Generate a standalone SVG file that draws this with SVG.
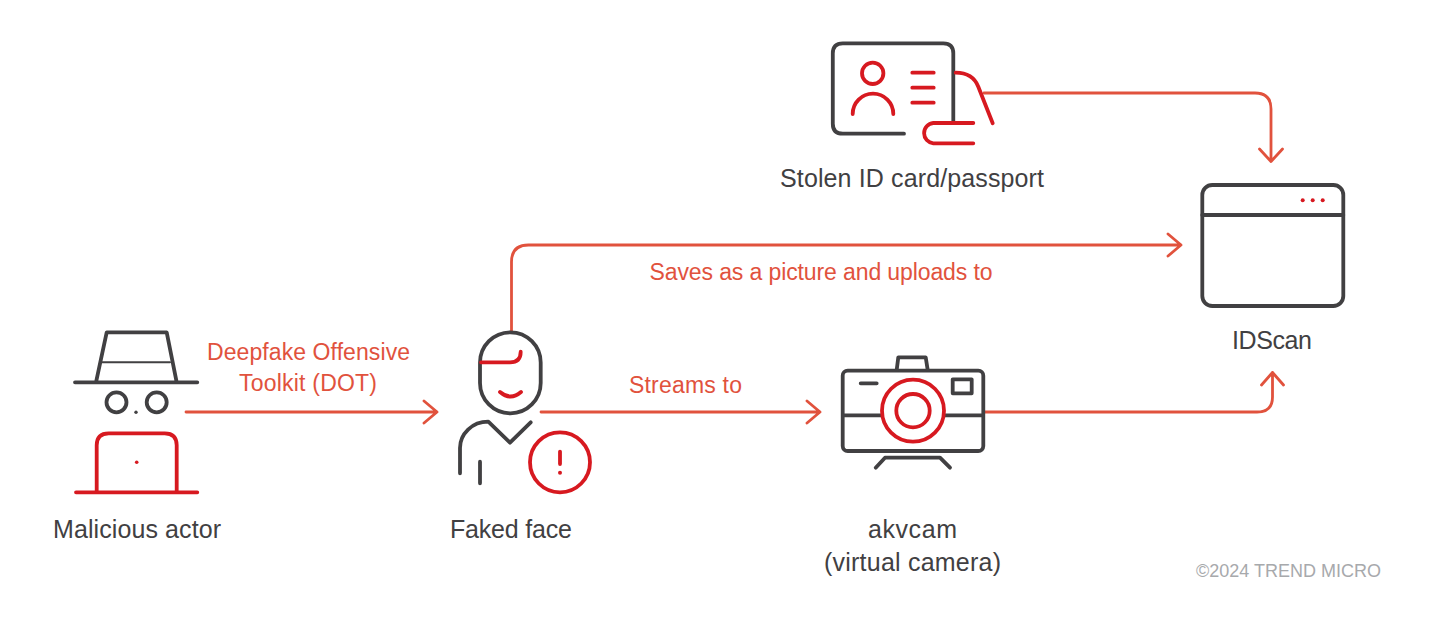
<svg xmlns="http://www.w3.org/2000/svg" width="1431" height="617" viewBox="0 0 1431 617">
<style>
.d{fill:none;stroke:#414042;stroke-width:3.800;stroke-linecap:round;stroke-linejoin:round}
.r{fill:none;stroke:#d71920;stroke-width:3.800;stroke-linecap:round;stroke-linejoin:round}
.c{fill:none;stroke:#e1523d;stroke-width:2.800;stroke-linecap:round;stroke-linejoin:round}
.fr{fill:#d71920}
.fd{fill:#414042}
text{font-family:"Liberation Sans",Arial,sans-serif;text-anchor:middle}
.lb{fill:#414042;font-size:25px}
.lc{fill:#e1523d;font-size:23px}
.cp{fill:#a7a9ac;font-size:18px}
</style>
<rect width="1431" height="617" fill="#fff"/>
<g id="connectors">
<path class="c" d="M186 412H437M424 401L437 412L424 423"/>
<path class="c" d="M541 412H820M807 401L820 412L807 423"/>
<path class="c" d="M511.500 331V262Q511.500 245 528.500 245H1181M1168 234L1181 245L1168 256"/>
<path class="c" d="M984 93H1255Q1271 93 1271 109V161.500M1259.500 149L1271 161.500L1282.500 149"/>
<path class="c" d="M984 412H1257Q1272.500 412 1272.500 397V372.500M1261.500 385L1272.500 372.500L1283.500 385"/>
</g>
<g id="malicious-actor">
<path class="d" d="M96 382.300L106.700 332.300H166.700L176.700 382.300M75 382.300H197.300"/>
<path class="d" style="stroke-width:2" d="M102.300 362.300H170"/>
<circle class="d" cx="116.500" cy="402.300" r="10"/>
<circle class="d" cx="156.700" cy="402.300" r="10"/>
<circle class="fd" cx="136" cy="412.300" r="1.700"/>
<path class="r" d="M96.700 492.300V445.300Q96.700 433.300 108.700 433.300H164.700Q176.700 433.300 176.700 445.300V492.300M76 492.300H197.300"/>
<circle class="fr" cx="136.700" cy="462.300" r="1.800"/>
<text class="lb" x="137" y="538" textLength="168">Malicious actor</text>
</g>
<g id="faked-face">
<rect class="d" x="480" y="332.300" width="60.700" height="81" rx="30.300"/>
<path class="r" d="M481 362.300H510Q520.700 362.300 520.700 351.700"/>
<path class="r" d="M500 392Q510.500 401 521 392"/>
<path class="d" d="M460 473.300V448C460 434 472 421.700 488.300 421.700L510 442.700L530.700 422.300M480 461.700V483.300"/>
<circle class="r" cx="560" cy="462.300" r="30"/>
<path class="r" d="M560 451.700V464"/>
<circle class="fr" cx="560" cy="472.700" r="2"/>
<text class="lb" x="511" y="538" textLength="122">Faked face</text>
</g>
<g id="stolen-id">
<path class="d" d="M904 133.700H842.800Q832.800 133.700 832.800 123.700V53.300Q832.800 43.300 842.800 43.300H943.300Q953.300 43.300 953.300 53.300V121.700"/>
<circle class="r" cx="872.700" cy="73.300" r="10.700"/>
<path class="r" d="M852.700 114A20.300 20.300 0 0 1 893.300 114"/>
<path class="r" d="M912.300 72.700H933.700M912.300 87.700H933.700M912.300 102.700H933.700"/>
<path class="r" d="M955.700 72.700C966 72.700 974 76 978.300 86.700L992.700 123.300"/>
<path class="r" d="M973.300 123H933.300A10.200 10.200 0 0 0 933.300 143.300H973.300"/>
<text class="lb" x="912" y="187" textLength="264">Stolen ID card/passport</text>
</g>
<g id="akvcam">
<rect class="d" x="842.700" y="370.700" width="140.600" height="80.300" rx="5"/>
<path class="d" d="M843 415.300H882M944 415.300H983M896.700 370L898.300 357.300H925.700L927.700 370M860.700 383.300H876.700M875.700 467.700L885 457.700H940L950 467.700"/>
<rect class="d" x="952.700" y="379.300" width="19" height="14"/>
<circle class="r" cx="913" cy="410.700" r="31"/>
<circle class="r" cx="913" cy="410.700" r="16.700"/>
<text class="lb" x="912.500" y="538" textLength="89">akvcam</text>
<text class="lb" x="912.500" y="571" textLength="177">(virtual camera)</text>
</g>
<g id="idscan">
<rect class="d" x="1202.300" y="185" width="141" height="121" rx="10"/>
<path class="d" d="M1202.300 215H1343.300"/>
<circle class="fr" cx="1302.700" cy="200.300" r="2"/>
<circle class="fr" cx="1312.700" cy="200.300" r="2"/>
<circle class="fr" cx="1322.700" cy="200.300" r="2"/>
<text class="lb" x="1272" y="349" textLength="80">IDScan</text>
</g>
<g id="labels">
<text class="lc" x="308.500" y="360" textLength="203">Deepfake Offensive</text>
<text class="lc" x="308" y="391" textLength="138">Toolkit (DOT)</text>
<text class="lc" x="685.500" y="393" textLength="113">Streams to</text>
<text class="lc" x="821" y="280" textLength="343">Saves as a picture and uploads to</text>
<text class="cp" x="1288.500" y="577" textLength="185">©2024 TREND MICRO</text>
</g>
</svg>
